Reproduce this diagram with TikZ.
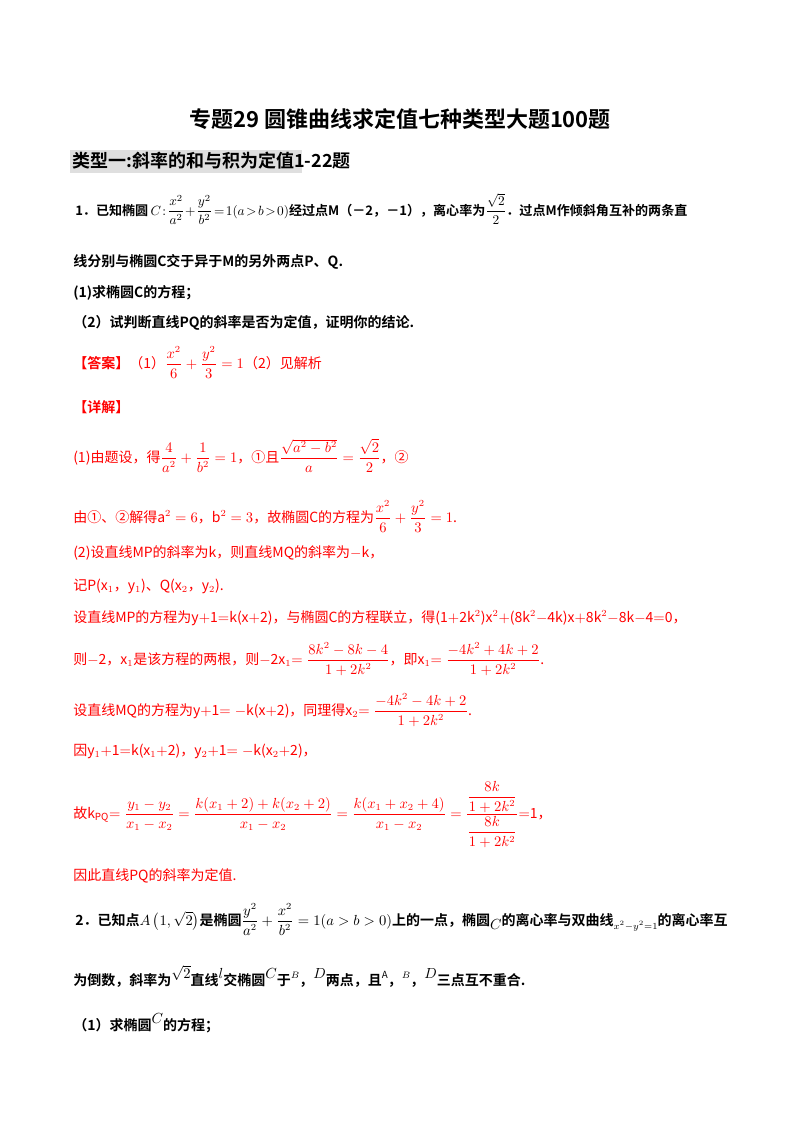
\documentclass[tikz,border=0pt]{standalone}
\usepackage{fontspec}
\setmainfont{Noto Sans CJK SC}[BoldFont={Noto Sans CJK SC Bold}]
\usepackage{amsmath}
\definecolor{ansred}{RGB}{255,0,0}
\newcommand{\upm}[1]{\raisebox{0.9ex}{$#1$}}
\newcommand{\dnm}[1]{\raisebox{-0.6ex}{$#1$}}
\begin{document}
\begin{tikzpicture}[x=0.75pt,y=-0.75pt,
  blk/.style={anchor=base west,inner sep=0pt,font=\fontsize{10.5}{12}\selectfont\bfseries},
  rd/.style={anchor=base west,inner sep=0pt,text=ansred,font=\fontsize{10.5}{12}\selectfont}]
\useasboundingbox (0,0) rectangle (800,1132);
\node[anchor=base,inner sep=0pt,font=\fontsize{16.5}{19}\selectfont\bfseries] (title) at (400,127) {专题29\ 圆锥曲线求定值七种类型大题100题};
\fill[gray!25] (70,150) rectangle (302,173);
\node[blk,font=\fontsize{13.5}{15}\selectfont\bfseries] (sec) at (72,167) {类型一:斜率的和与积为定值1-22题};
\node[blk,font=\fontsize{9.8}{12}\selectfont\bfseries] (q1) at (75,215) {1．已知椭圆$\,C\!:\!\dfrac{x^2}{a^2}\!+\!\dfrac{y^2}{b^2}\!=\!1(a\!>\!b\!>\!0)$经过点M（－2，－1），离心率为$\dfrac{\sqrt2}{2}$．过点M作倾斜角互补的两条直};
\node[blk] (q1b) at (73,266) {线分别与椭圆C交于异于M的另外两点P、Q.};
\node[blk] (q1c) at (73,297) {(1)求椭圆C的方程；};
\node[blk] (q1d) at (73,327) {（2）试判断直线PQ的斜率是否为定值，证明你的结论.};
\node[rd] (ans) at (73,368) {\textbf{【答案】}（1）$\dfrac{x^2}{6}+\dfrac{y^2}{3}=1$（2）见解析};
\node[rd] (xj) at (73,412) {\textbf{【详解】}};
\node[rd] (s1) at (73,462) {(1)由题设，得$\dfrac{4}{a^2}+\dfrac{1}{b^2}=1$，①且$\dfrac{\sqrt{a^2-b^2}}{a}=\dfrac{\sqrt2}{2}$，②};
\node[rd] (s2) at (73,522) {由①、②解得$\mathrm{a}^2=6$，$\mathrm{b}^2=3$，故椭圆C的方程为$\dfrac{x^2}{6}+\dfrac{y^2}{3}=1$.};
\node[rd] (s3) at (73,557) {(2)设直线MP的斜率为k，则直线MQ的斜率为$-$k，};
\node[rd] (s4) at (73,590) {记P(x$_1$，y$_1$)、Q(x$_2$，y$_2$).};
\node[rd] (s5) at (73,622) {设直线MP的方程为y$+$1$=$k(x$+$2)，与椭圆C的方程联立，得(1$+$2k$^2$)x$^2$$+$(8k$^2$$-$4k)x$+$8k$^2$$-$8k$-$4$=$0，};
\node[rd] (s6) at (73,664) {则$-$2，x$_1$是该方程的两根，则$-$2x$_1$$=\dfrac{8k^2-8k-4}{1+2k^2}$，即x$_1$$=\dfrac{-4k^2+4k+2}{1+2k^2}$.};
\node[rd] (s7) at (73,715) {设直线MQ的方程为y$+$1$=-$k(x$+$2)，同理得x$_2$$=\dfrac{-4k^2-4k+2}{1+2k^2}$.};
\node[rd] (s8) at (73,755) {因y$_1$$+$1$=$k(x$_1$$+$2)，y$_2$$+$1$=-$k(x$_2$$+$2)，};
\node[rd] (s9) at (73,818) {故k$_{\mathrm{PQ}}$$=\dfrac{y_1-y_2}{x_1-x_2}=\dfrac{k(x_1+2)+k(x_2+2)}{x_1-x_2}=\dfrac{k(x_1+x_2+4)}{x_1-x_2}=\dfrac{\dfrac{8k}{1+2k^2}}{\dfrac{8k}{1+2k^2}}$$=$1，};
\node[rd] (s10) at (73,880) {因此直线PQ的斜率为定值.};
\node[blk] (q2) at (75,925) {2．已知点$A\left(1,\sqrt2\right)$是椭圆$\dfrac{y^2}{a^2}+\dfrac{x^2}{b^2}=1(a>b>0)$上的一点，椭圆\dnm{C}的离心率与双曲线\dnm{\scriptstyle x^2-y^2=1}的离心率互};
\node[blk] (q2b) at (73,985) {为倒数，斜率为\upm{\sqrt2}直线\upm{l}交椭圆\upm{C}于\upm{\scriptstyle B}，\upm{D}两点，且\upm{\scriptstyle\mathrm{A}}，\upm{\scriptstyle B}，\upm{D}三点互不重合.};
\node[blk] (q2c) at (73,1030) {（1）求椭圆\upm{C}的方程；};
\end{tikzpicture}
\end{document}
